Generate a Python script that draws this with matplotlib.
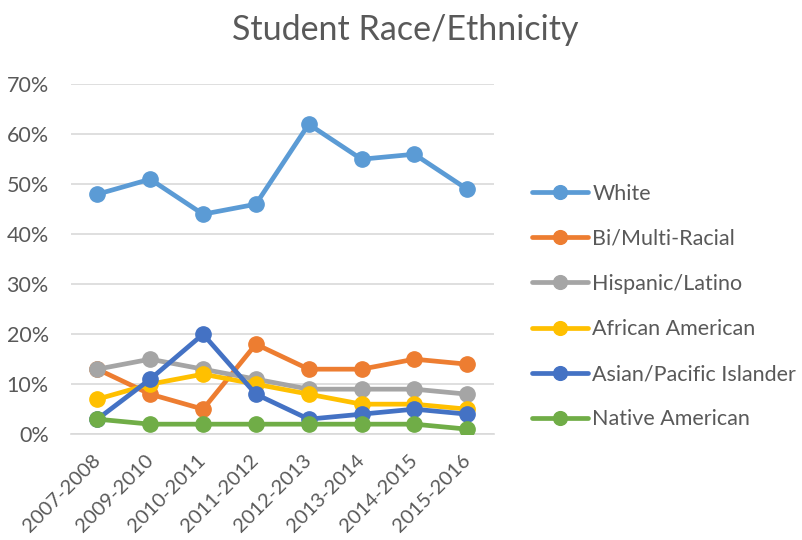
import matplotlib
matplotlib.use("Agg")
import matplotlib.pyplot as plt
from matplotlib.ticker import FuncFormatter

years = ["2007-2008", "2009-2010", "2010-2011", "2011-2012",
         "2012-2013", "2013-2014", "2014-2015", "2015-2016"]
series_names = ["White", "Bi/Multi-Racial", "Hispanic/Latino",
                "African American", "Asian/Pacific Islander", "Native American"]
white = [48, 51, 44, 46, 62, 55, 56, 49]
multi = [13, 8, 5, 18, 13, 13, 15, 14]
hispanic = [13, 15, 13, 11, 9, 9, 9, 8]
african = [7, 10, 12, 10, 8, 6, 6, 5]
asian = [3, 11, 20, 8, 3, 4, 5, 4]
native = [3, 2, 2, 2, 2, 2, 2, 1]
values = [white, multi, hispanic, african, asian, native]
colors = ["#5B9BD5", "#ED7D31", "#A5A5A5", "#FFC000", "#4472C4", "#70AD47"]

plt.rcParams['font.family'] = ['Lato', 'DejaVu Sans']
fig = plt.figure(figsize=(8.02, 5.40), dpi=100)
ax = fig.add_axes([0.0885, 0.196, 0.527, 0.648])

x = list(range(len(years)))
for name, vals, c in zip(series_names, values, colors):
    ax.plot(x, vals, color=c, lw=3.4, marker='o', markersize=11,
            solid_capstyle='round', label=name, zorder=3)

ax.set_xlim(-0.5, len(years) - 0.5)
ax.set_ylim(0, 70)
ax.set_yticks(range(0, 71, 10))
ax.yaxis.set_major_formatter(FuncFormatter(lambda v, p: f"{int(v)}%"))
ax.set_xticks(x)
ax.set_xticklabels(years, rotation=45, ha='right', va='center',
                   rotation_mode='anchor', fontsize=14.5)
ax.grid(axis='y', color='#D9D9D9', lw=1.2, zorder=0)
for s in ['top', 'right', 'left']:
    ax.spines[s].set_visible(False)
ax.spines['bottom'].set_color('#D9D9D9')
ax.spines['bottom'].set_linewidth(1.2)
ax.tick_params(axis='both', length=0, labelcolor='#595959')
ax.tick_params(axis='y', pad=16, labelsize=15.5)
ax.tick_params(axis='x', pad=17)

fig.text(0.5056, 0.944, "Student Race/Ethnicity", ha='center', va='center',
         fontsize=24.5, color='#595959')

leg = ax.legend(loc='center left', bbox_to_anchor=(0.6633, 0.4324),
                bbox_transform=fig.transFigure, frameon=False,
                fontsize=15.5, labelcolor='#595959', handlelength=2.6,
                labelspacing=1.17, handletextpad=0.2, borderpad=0,
                borderaxespad=0, markerscale=0.9)

fig.savefig("out.png", dpi=100)
